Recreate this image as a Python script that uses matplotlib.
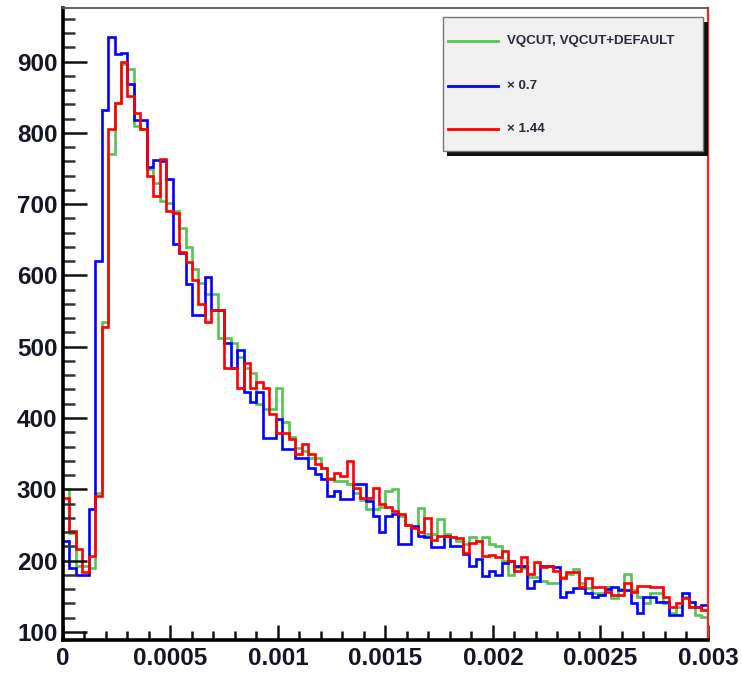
import matplotlib
matplotlib.use("Agg")
import matplotlib.pyplot as plt
import numpy as np
from matplotlib.lines import Line2D
from matplotlib.patches import Rectangle
from matplotlib.ticker import FixedLocator, MultipleLocator

# histogram range: 100 bins between 0 and 0.003
x_lo, x_hi, n_bins = 0.0, 0.003, 100

green = [300, 238, 192, 192, 190, 295, 535, 770, 842, 897,
         890, 809, 805, 749, 730, 705, 702, 690, 667, 640,
         609, 590, 574, 574, 512, 512, 505, 486, 470, 463,
         420, 412, 412, 442, 395, 374, 358, 353, 344, 344,
         330, 316, 312, 312, 307, 295, 285, 272, 272, 275,
         298, 300, 263, 250, 247, 274, 237, 237, 258, 237,
         233, 228, 223, 233, 228, 233, 223, 220, 200, 180,
         191, 190, 177, 177, 172, 168, 168, 177, 181, 188,
         168, 161, 154, 154, 163, 147, 160, 181, 158, 149,
         140, 154, 154, 140, 126, 135, 149, 135, 123, 121]

blue = [228, 190, 180, 180, 272, 620, 832, 935, 910, 912,
        868, 818, 818, 752, 762, 760, 735, 644, 632, 588,
        544, 544, 598, 551, 551, 505, 470, 495, 437, 423,
        437, 372, 372, 398, 356, 356, 344, 344, 330, 321,
        314, 291, 298, 286, 286, 307, 307, 284, 262, 240,
        262, 265, 223, 223, 249, 235, 233, 219, 219, 235,
        221, 221, 209, 193, 202, 179, 186, 180, 197, 200,
        193, 193, 161, 172, 193, 193, 191, 149, 156, 161,
        161, 154, 149, 152, 160, 163, 158, 158, 140, 126,
        149, 149, 142, 142, 123, 123, 154, 142, 135, 137]

red = [288, 242, 216, 184, 207, 290, 528, 805, 842, 900,
       852, 828, 805, 740, 712, 763, 690, 688, 633, 619,
       593, 560, 535, 551, 551, 470, 470, 442, 477, 442,
       451, 442, 405, 379, 379, 370, 349, 363, 350, 335,
       330, 314, 323, 319, 340, 302, 288, 288, 302, 279,
       275, 270, 265, 250, 245, 240, 260, 229, 235, 235,
       233, 231, 210, 225, 227, 206, 208, 205, 214, 200,
       186, 205, 181, 198, 191, 193, 186, 175, 184, 184,
       163, 175, 163, 163, 156, 151, 151, 168, 156, 165,
       165, 163, 163, 149, 135, 140, 147, 135, 135, 130]

labels = ["VQCUT, VQCUT+DEFAULT", "\u00d7 0.7", "\u00d7 1.44"]
colors = ["#55c455", "#0000ff", "#ff0000"]

x_ticks = [0, 0.0005, 0.001, 0.0015, 0.002, 0.0025, 0.003]
x_ticklabels = ["0", "0.0005", "0.001", "0.0015", "0.002", "0.0025", "0.003"]
y_ticks = [100, 200, 300, 400, 500, 600, 700, 800, 900]

plt.rcParams['font.family'] = ['Liberation Sans', 'DejaVu Sans']

fig = plt.figure(figsize=(7.42, 6.78), dpi=100)
ax = fig.add_axes([0.0849, 0.056, 0.8692, 0.932])

edges = np.linspace(x_lo, x_hi, n_bins + 1)
for vals, col in zip([green, blue, red], colors):
    ax.stairs(vals, edges, baseline=None, color=col, linewidth=1.9)

ax.set_xlim(x_lo, x_hi)
ax.set_ylim(88.5, 975)

ax.xaxis.set_major_locator(FixedLocator(x_ticks))
ax.set_xticklabels(x_ticklabels)
ax.xaxis.set_minor_locator(MultipleLocator(0.0001))
ax.yaxis.set_major_locator(FixedLocator(y_ticks))
ax.set_yticklabels([str(v) for v in y_ticks])
ax.yaxis.set_minor_locator(MultipleLocator(20))

ax.tick_params(axis='both', which='both', direction='in', colors='#111111',
               labelcolor='#15152a', labelsize=17.5, width=1.8)
ax.tick_params(axis='y', which='major', length=17, pad=4)
ax.tick_params(axis='y', which='minor', length=8.5, color='#333333')
ax.tick_params(axis='x', which='major', length=11, pad=5)
ax.tick_params(axis='x', which='minor', length=6.5)
for lab in ax.get_xticklabels() + ax.get_yticklabels():
    lab.set_fontweight('bold')

ax.spines['left'].set_linewidth(2.6)
ax.spines['bottom'].set_linewidth(2.6)
ax.spines['top'].set_linewidth(1.3)
ax.spines['top'].set_color('#555555')
ax.spines['right'].set_linewidth(1.6)
ax.spines['right'].set_color('#ff2020')

# legend box with drop shadow
bx, by, bw, bh = 0.597, 0.778, 0.351, 0.197
fig.patches.append(Rectangle((bx + 0.006, by - 0.008), bw, bh, transform=fig.transFigure,
                             facecolor='#111111', edgecolor='none', zorder=5))
fig.patches.append(Rectangle((bx, by), bw, bh, transform=fig.transFigure,
                             facecolor='#f0f0f0', edgecolor='#777777', linewidth=1.0, zorder=6))
rows_y = [0.940, 0.873, 0.810]
for lab, col, yy in zip(labels, colors, rows_y):
    fig.add_artist(Line2D([0.604, 0.671], [yy, yy], transform=fig.transFigure,
                          color=col, linewidth=2.0, zorder=7))
    fig.text(0.683, yy, lab, fontsize=9.6, fontweight='bold', color='#2a2a3a',
             va='center', ha='left', zorder=7)

fig.savefig("out.png", dpi=100, facecolor='white')
